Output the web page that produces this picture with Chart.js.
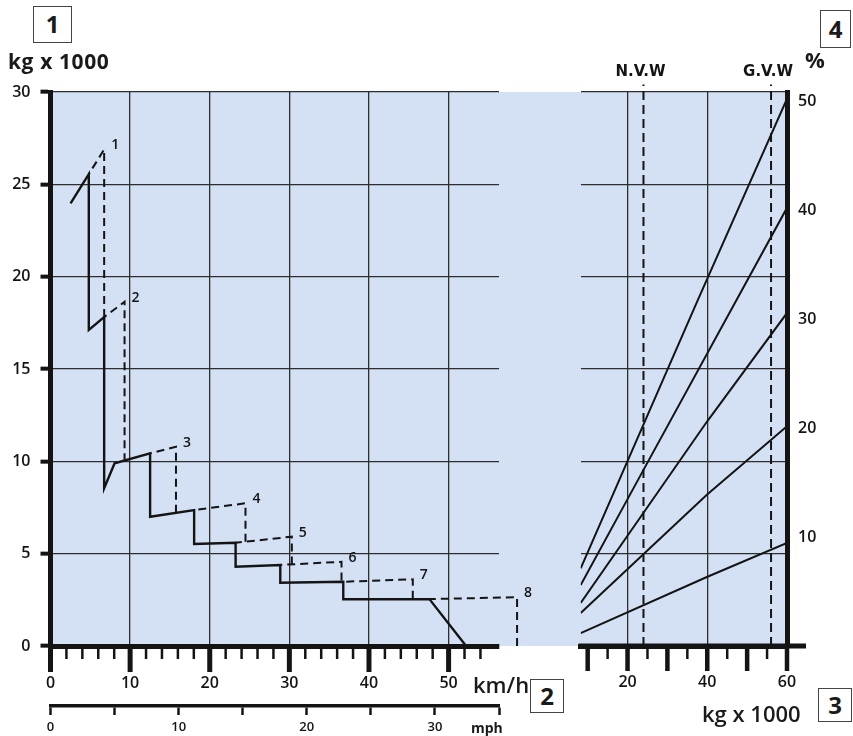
<!DOCTYPE html>
<html>
<head>
<meta charset="utf-8">
<script src="https://cdn.jsdelivr.net/npm/chart.js@4.4.0/dist/chart.umd.min.js"></script>
<style>
  body { margin: 0; background: #fff; width: 853px; height: 736px; position: relative; overflow: hidden;
         font-family: 'Open Sans', sans-serif; color: #1a1a1a; }
  .plot-bg { position: absolute; left: 50px; top: 92px; width: 737px; height: 554px; background: #d4e1f5; }
  canvas { position: absolute; top: 0; }
  #tractionChart { left: 0; }
  #gradeChart { left: 560px; }
  .box { position: absolute; border: 1.5px solid #444; background: #fff; font-size: 24px; font-weight: 700;
         text-align: center; box-sizing: border-box; }
  .lbl { position: absolute; font-weight: 700; white-space: nowrap; line-height: 1; }
</style>
</head>
<body>
<div class="plot-bg"></div>
<canvas id="tractionChart" width="560" height="736"></canvas>
<canvas id="gradeChart" width="293" height="736"></canvas>

<div class="box" style="left:33px;top:6px;width:39px;height:37px;line-height:34px;">1</div>
<div class="box" style="left:530px;top:679px;width:34px;height:34px;line-height:31px;">2</div>
<div class="box" style="left:818px;top:688px;width:34px;height:34px;line-height:31px;">3</div>
<div class="box" style="left:820px;top:10px;width:31px;height:38px;line-height:35px;">4</div>

<div class="lbl" style="left:8px;top:51px;font-size:21px;letter-spacing:0.6px;">kg x 1000</div>
<div class="lbl" style="left:473px;top:673px;font-size:22px;font-weight:600;">km/h</div>
<div class="lbl" style="left:471px;top:721px;font-size:14px;">mph</div>
<div class="lbl" style="left:702px;top:702px;font-size:22px;font-weight:600;">kg x 1000</div>
<div class="lbl" style="left:805px;top:48px;font-size:22px;">%</div>

<script>
// tractive effort (kg x 1000) against road speed (km/h)
const tractionSolid = [[2.52, 23.97], [4.81, 25.55], [4.81, 17.11], [6.74, 17.81], [6.74, 8.54], [8.05, 9.89],
  [12.51, 10.43], [12.51, 7.0], [18.04, 7.36], [18.04, 5.52], [23.25, 5.59], [23.25, 4.29], [28.86, 4.39],
  [28.86, 3.43], [36.77, 3.48], [36.77, 2.53], [47.59, 2.54], [52.2, 0]];

const gearNames = ['1', '2', '3', '4', '5', '6', '7', '8'];
const gearDashed = [
  [[4.81, 25.55], [6.74, 26.89], [6.74, 17.81]],
  [[6.74, 17.81], [9.30, 18.64], [9.30, 10.0]],
  [[12.51, 10.43], [15.76, 10.79], [15.76, 7.22]],
  [[18.04, 7.36], [24.49, 7.73], [24.49, 5.65]],
  [[23.25, 5.59], [30.31, 5.92], [30.31, 4.42]],
  [[28.86, 4.39], [36.55, 4.56], [36.55, 3.55]],
  [[36.77, 3.48], [45.5, 3.61], [45.5, 2.56]],
  [[47.59, 2.54], [58.6, 2.64], [58.6, 0]]
];

const speedRange = [0, 56.33];   // km/h
const mphRange = [0, 35];
const loadRange = [0, 30];       // kg x 1000

// gradient (%) against vehicle weight (kg x 1000)
const gradeLines = [
  [[8.25, 7.14], [37.4, 31.6], [59.9, 50.2]],
  [[8.25, 5.61], [24, 16.18], [60, 40.26]],
  [[8.25, 3.95], [39.9, 20.6], [60, 30.6]],
  [[8.25, 3.03], [39.9, 13.9], [60, 20.2]],
  [[8.25, 1.19], [39.9, 6.34], [60, 9.47]]
];
const weightNames = ['N.V.W', 'G.V.W'];
const weightMarks = [24, 56];
const weightLineTop = 51.6;
const massRange = [8.25, 60];
const gradeRange = [0, 50.9];

const ink = '#141414';
const gridInk = '#2e2e2e';
const tickFont = { family: "'Open Sans', sans-serif", size: 16, weight: '600' };

Chart.defaults.font.family = "'Open Sans', sans-serif";
Chart.defaults.color = ink;

const toXY = pts => pts.map(([x, y]) => ({ x, y }));

// long ticks on multiples of 10, short ones between
function tickMarks(id, scaleId, major, minor, extendRight) {
  return {
    id: id,
    afterDraw(chart) {
      const s = chart.scales[scaleId];
      const ctx = chart.ctx;
      ctx.save();
      ctx.strokeStyle = ink;
      s.ticks.forEach(t => {
        const big = t.value % 10 === 0;
        const px = s.getPixelForValue(t.value);
        ctx.lineWidth = big ? major.width : minor.width;
        ctx.beginPath();
        ctx.moveTo(px, s.top);
        ctx.lineTo(px, s.top + (big ? major.length : minor.length));
        ctx.stroke();
      });
      if (extendRight) {
        ctx.lineWidth = 5;
        ctx.beginPath();
        ctx.moveTo(s.left - 2, s.top);
        ctx.lineTo(s.right + extendRight, s.top);
        ctx.stroke();
      }
      ctx.restore();
    }
  };
}

const gearLabels = {
  id: 'gearLabels',
  afterDatasetsDraw(chart) {
    const ctx = chart.ctx;
    ctx.save();
    ctx.fillStyle = ink;
    ctx.font = "600 14px 'Open Sans', sans-serif";
    ctx.textBaseline = 'middle';
    ctx.textAlign = 'left';
    gearNames.forEach((name, i) => {
      const pt = chart.getDatasetMeta(i + 1).data[1];
      ctx.fillText(name, pt.x + 7, pt.y - 4);
    });
    ctx.restore();
  }
};

const weightLabels = {
  id: 'weightLabels',
  afterDatasetsDraw(chart) {
    const ctx = chart.ctx;
    ctx.save();
    ctx.fillStyle = ink;
    ctx.font = "700 15px 'DejaVu Sans', sans-serif";
    ctx.textAlign = 'center';
    ctx.textBaseline = 'alphabetic';
    weightNames.forEach((name, i) => {
      const pt = chart.getDatasetMeta(gradeLines.length + i).data[1];
      ctx.fillText(name, pt.x - 3, pt.y - 8);
    });
    ctx.restore();
  }
};

new Chart(document.getElementById('tractionChart'), {
  type: 'scatter',
  data: {
    datasets: [
      { data: toXY(tractionSolid), showLine: true, borderColor: ink, borderWidth: 2.4, pointRadius: 0, clip: false },
      // drawn from the bottom of the drop up, so points past the axis end are kept
      ...gearDashed.map(g => ({
        data: toXY(g.slice().reverse()), showLine: true, borderColor: ink, borderWidth: 2, borderDash: [8, 5],
        pointRadius: 0, clip: false
      }))
    ]
  },
  options: {
    responsive: false,
    animation: false,
    devicePixelRatio: 1,
    layout: { padding: { top: 92, right: 61, left: 0, bottom: 0 } },
    plugins: { legend: { display: false }, tooltip: { enabled: false } },
    scales: {
      x: {
        type: 'linear', position: 'bottom', weight: 0,
        min: speedRange[0], max: speedRange[1],
        afterBuildTicks: s => { s.ticks = s.ticks.filter(t => t.value <= 54); },
        afterFit: s => { s.height = 60; },
        border: { color: ink, width: 5 },
        grid: {
          drawTicks: false, lineWidth: 1.3,
          color: c => (c.tick && c.tick.value % 10 === 0) ? gridInk : 'rgba(0,0,0,0)'
        },
        ticks: {
          stepSize: 2, autoSkip: false, maxRotation: 0, includeBounds: false, padding: 28,
          font: tickFont, callback: v => (v % 10 === 0 ? v : '')
        }
      },
      mph: {
        type: 'linear', axis: 'x', position: 'bottom', weight: 1,
        min: mphRange[0], max: mphRange[1],
        afterFit: s => { s.height = 30; },
        border: { color: ink, width: 3.5 },
        grid: { drawOnChartArea: false, tickLength: 9, tickWidth: 2.5, tickColor: ink },
        ticks: {
          stepSize: 5, autoSkip: false, maxRotation: 0, padding: 4,
          font: { size: 13, weight: '600' }, callback: v => (v % 10 === 0 ? v : '')
        }
      },
      y: {
        type: 'linear', min: loadRange[0], max: loadRange[1],
        afterFit: s => { s.width = 50.5; },
        border: { color: ink, width: 5 },
        grid: { color: gridInk, lineWidth: 1.3, tickLength: 10, tickWidth: 4, tickColor: ink },
        ticks: { stepSize: 5, padding: 10, font: tickFont }
      }
    }
  },
  plugins: [tickMarks('speedTicks', 'x', { width: 5, length: 26 }, { width: 2.5, length: 13 }, 0), gearLabels]
});

new Chart(document.getElementById('gradeChart'), {
  type: 'scatter',
  data: {
    datasets: [
      ...gradeLines.map(l => ({
        data: toXY(l), yAxisID: 'grade', showLine: true, borderColor: ink, borderWidth: 2, pointRadius: 0
      })),
      ...weightMarks.map(w => ({
        data: [{ x: w, y: 0 }, { x: w, y: weightLineTop }], yAxisID: 'grade', showLine: true,
        borderColor: ink, borderWidth: 2, borderDash: [9, 5], pointRadius: 0, clip: false
      }))
    ]
  },
  options: {
    responsive: false,
    animation: false,
    devicePixelRatio: 1,
    layout: { padding: { top: 92, right: 0, left: 0, bottom: 0 } },
    plugins: { legend: { display: false }, tooltip: { enabled: false } },
    scales: {
      x: {
        type: 'linear', min: massRange[0], max: massRange[1],
        afterFit: s => { s.height = 90; },
        border: { color: ink, width: 5 },
        grid: {
          drawTicks: false, lineWidth: 1.3,
          color: c => (c.tick && (c.tick.value === 20 || c.tick.value === 40)) ? gridInk : 'rgba(0,0,0,0)'
        },
        ticks: {
          stepSize: 5, autoSkip: false, maxRotation: 0, includeBounds: false, padding: 27,
          font: tickFont, callback: v => (v % 20 === 0 ? v : '')
        }
      },
      y: {
        type: 'linear', position: 'left', min: loadRange[0], max: loadRange[1],
        afterFit: s => { s.width = 20; },
        border: { display: false },
        grid: { drawTicks: false, color: gridInk, lineWidth: 1.3 },
        ticks: { display: false, stepSize: 5 }
      },
      grade: {
        type: 'linear', position: 'right', min: gradeRange[0], max: gradeRange[1],
        afterFit: s => { s.width = 66; },
        border: { color: ink, width: 5 },
        grid: { drawOnChartArea: false, drawTicks: false },
        ticks: {
          stepSize: 10, autoSkip: false, includeBounds: false, padding: 11, font: tickFont,
          callback: v => (v === 0 ? '' : v)
        }
      }
    }
  },
  plugins: [tickMarks('massTicks', 'x', { width: 4.5, length: 25 }, { width: 2.5, length: 13 }, 19), weightLabels]
});
</script>
</body>
</html>
